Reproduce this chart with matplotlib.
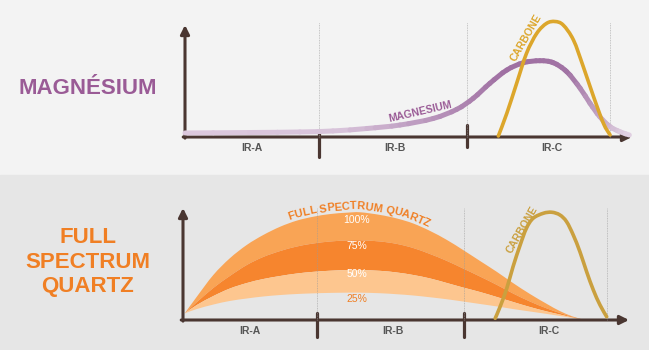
#!/usr/bin/env python3
# -*- coding: utf-8 -*-

import numpy as np
import matplotlib
matplotlib.use("Agg")
import matplotlib.pyplot as plt
from matplotlib.collections import LineCollection
from matplotlib.colors import LinearSegmentedColormap
from matplotlib.patches import Rectangle, PathPatch
from matplotlib.path import Path
from matplotlib.font_manager import FontProperties
from matplotlib.textpath import TextToPath

plt.rcParams['font.family'] = ['Liberation Sans', 'DejaVu Sans']

# spectral zones, relative wavelength units 0..100
zoneEdges = [30, 63]
guideLines = [30, 63, 95]
zoneLabels = ['IR-A', 'IR-B', 'IR-C']
zoneLabelX = [15, 47, 82]

# top panel: magnesium lamp vs carbon lamp (relative intensity)
magX = [0, 14.5, 25.7, 33.1, 40.7, 48.1, 55.5, 60.8, 64.5, 68.2, 72.0, 75.7, 79.4, 82.4,
        85.4, 88.4, 90.6, 92.8, 95.1, 97.3, 99.4]
magY = [3.6, 4.0, 4.5, 5.4, 7.6, 10.7, 16.5, 24.7, 34.6, 47.9, 59.8, 66.3, 68.1, 66.3,
        58.3, 43.5, 30.1, 18.1, 9.2, 4.7, 1.8]

carbTopX = [70.1, 72.0, 74.2, 76.4, 78.7, 80.9, 82.8, 84.6, 86.9, 89.1, 91.4, 93.6, 95.1]
carbTopY = [0.9, 21.2, 48.0, 74.7, 92.6, 101.5, 103.1, 100.0, 86.6, 62.8, 36.0, 12.2, 1.8]

# bottom panel: full spectrum quartz at 100/75/50/25 % power, and carbon lamp
fsqX = [0.4, 3.1, 6.8, 10.5, 14.3, 18.0, 21.8, 25.5, 29.2, 33.0, 36.7, 39.7, 44.2, 48.0,
        51.6, 55.4, 59.2, 62.8, 66.6, 70.4, 74.0, 77.8, 81.6, 84.5, 87.4, 90.1]
fsq100 = [6.0, 20.8, 40.2, 55.1, 67.0, 75.9, 83.3, 88.7, 92.2, 94.6, 95.8, 96.2, 93.8, 90.6,
          86.2, 79.5, 71.4, 62.5, 52.7, 42.9, 33.0, 23.2, 14.3, 8.0, 3.1, 0]
fsq75 = [6.0, 15.9, 28.6, 39.3, 49.1, 56.3, 61.6, 65.6, 68.3, 70.1, 71.0, 71.2, 70.1, 67.9,
         64.3, 58.9, 52.7, 46.0, 38.8, 31.3, 23.7, 16.5, 10.3, 6.3, 2.7, 0]
fsq50 = [6.0, 13.4, 21.4, 28.1, 33.0, 36.6, 39.3, 41.5, 43.0, 44.0, 44.6, 44.6, 43.9, 42.4,
         40.2, 37.1, 33.0, 29.0, 25.0, 20.5, 16.1, 11.6, 7.6, 4.9, 2.2, 0]
fsq25 = [6.0, 9.8, 13.8, 17.0, 19.2, 21.0, 22.3, 23.2, 23.8, 24.2, 24.4, 24.4, 23.9, 23.0,
         21.9, 20.3, 18.5, 16.5, 14.3, 12.1, 9.8, 7.6, 5.4, 3.6, 1.8, 0]
pctLabels = ['100%', '75%', '50%', '25%']
pctLabelY = [89.3, 66.1, 41.1, 18.8]

carbBotX = [70.0, 71.1, 72.6, 74.0, 75.6, 77.0, 78.5, 80.8, 82.7, 84.5, 86.0, 87.5, 89.0,
            90.5, 92.0, 93.5, 95.0]
carbBotY = [1.5, 11.9, 28.3, 47.6, 67.0, 81.9, 90.8, 95.3, 96.2, 93.8, 87.8, 75.9, 60.9,
            43.1, 26.8, 13.4, 2.9]

axisColor = '#4a3631'
purple = '#9a5b96'
orange = '#f07f24'
gold = '#dca62b'

fig = plt.figure(figsize=(6.49, 3.5), dpi=100)
fig.patches.append(Rectangle((0, 0.5), 1, 0.5, transform=fig.transFigure, color='#f3f3f3', zorder=-10))
fig.patches.append(Rectangle((0, 0), 1, 0.5, transform=fig.transFigure, color='#e6e6e6', zorder=-10))

axTop = fig.add_axes([185 / 649, 213 / 350, 447 / 649, 112 / 350])
axBot = fig.add_axes([183 / 649, 30 / 350, 446 / 649, 112 / 350])


def bezierSegments(xs, ys):
    # Catmull-Rom style smooth path through the read points
    p = np.column_stack([xs, ys]).astype(float)
    ext = np.vstack([p[0], p, p[-1]])
    verts = []
    for i in range(len(p) - 1):
        p0, p1, p2, p3 = ext[i], ext[i + 1], ext[i + 2], ext[i + 3]
        verts.append((p1 + (p2 - p0) / 6, p2 - (p3 - p1) / 6, p2))
    return p, verts


def smoothPath(xs, ys):
    p, segs = bezierSegments(xs, ys)
    verts = [p[0]]
    codes = [Path.MOVETO]
    for c1, c2, end in segs:
        verts += [c1, c2, end]
        codes += [Path.CURVE4] * 3
    return Path(verts, codes)


def bandPath(xs, upper, lower):
    pu, su = bezierSegments(xs, upper)
    pl, sl = bezierSegments(xs[::-1], lower[::-1])
    verts = [pu[0]]
    codes = [Path.MOVETO]
    for c1, c2, end in su:
        verts += [c1, c2, end]
        codes += [Path.CURVE4] * 3
    verts.append(pl[0])
    codes.append(Path.LINETO)
    for c1, c2, end in sl:
        verts += [c1, c2, end]
        codes += [Path.CURVE4] * 3
    verts.append(pu[0])
    codes.append(Path.CLOSEPOLY)
    return Path(verts, codes)


def drawFrame(ax, tickSpans, guideTop):
    ax.set_xlim(0, 100)
    ax.set_ylim(0, 100)
    ax.axis('off')
    arrow = dict(arrowstyle='-|>', color=axisColor, lw=2.2, mutation_scale=13, shrinkA=0, shrinkB=0)
    ax.annotate('', xy=(0, 1), xytext=(0, -0.01), xycoords='axes fraction', arrowprops=arrow,
                annotation_clip=False, zorder=2)
    ax.annotate('', xy=(1, 0), xytext=(-0.004, 0), xycoords='axes fraction', arrowprops=arrow,
                annotation_clip=False, zorder=2)
    for g in guideLines:
        ax.plot([g, g], [0, guideTop], color='#9a9a9a', lw=0.6, ls=(0, (1, 1)), alpha=0.7,
                zorder=2.5, clip_on=False)
    for e, (lo, hi) in zip(zoneEdges, tickSpans):
        ax.plot([e, e], [lo, hi], color=axisColor, lw=2.3, solid_capstyle='round', zorder=2,
                clip_on=False)
    for x, lab in zip(zoneLabelX, zoneLabels):
        ax.text(x, -10, lab, ha='center', va='center', fontsize=7.5, fontweight='bold',
                color='#555555')


def drawCurve(ax, xs, ys, color, lw, z):
    ax.add_patch(PathPatch(smoothPath(xs, ys), fill=False, edgecolor=color, lw=lw,
                           capstyle='round', joinstyle='round', zorder=z, clip_on=False))


def textAlongCurve(ax, text, xs, ys, startX, endX, lift, fontsize, color):
    poly = smoothPath(xs, ys).to_polygons(transform=ax.transData, closed_only=False)[0]
    pts = np.array(poly, dtype=float)
    pts[:, 1] += lift
    seg = np.hypot(np.diff(pts[:, 0]), np.diff(pts[:, 1]))
    s = np.concatenate([[0], np.cumsum(seg)])
    s0 = np.interp(ax.transData.transform((startX, 0))[0], pts[:, 0], s)
    s1 = np.interp(ax.transData.transform((endX, 0))[0], pts[:, 0], s)
    prop = FontProperties(family='Liberation Sans', weight='bold', size=fontsize)
    t2p = TextToPath()
    widths = []
    for ch in text:
        if ch == ' ':
            widths.append(0.278 * fontsize * fig.dpi / 72)
        else:
            widths.append(t2p.get_text_width_height_descent(ch, prop, ismath=False)[0] * fig.dpi / 72)
    gap = (s1 - s0 - sum(widths)) / (len(text) - 1)
    pos = s0
    inv = fig.transFigure.inverted()
    for ch, w in zip(text, widths):
        c = pos + w / 2
        x = np.interp(c, s, pts[:, 0])
        y = np.interp(c, s, pts[:, 1])
        dx = np.interp(c + 5, s, pts[:, 0]) - np.interp(c - 5, s, pts[:, 0])
        dy = np.interp(c + 5, s, pts[:, 1]) - np.interp(c - 5, s, pts[:, 1])
        ang = np.degrees(np.arctan2(dy, dx))
        fx, fy = inv.transform((x, y))
        fig.text(fx, fy, ch, rotation=ang, rotation_mode='anchor', ha='center', va='baseline',
                 fontsize=fontsize, fontweight='bold', color=color)
        pos += w + gap


# ---------- top panel ----------
drawFrame(axTop, [(3.6, -17.9), (10.7, -8.9)], 102.7)

# magnesium curve: smooth path, flattened and coloured along x for the fade
magCmap = LinearSegmentedColormap.from_list(
    'mag', [(0, '#dcc8dd'), (0.35, '#d8c3da'), (0.72, '#9f6fa2'), (0.86, '#a173a4'),
            (0.98, '#dccadd'), (1, '#e3d3e3')])
flat = smoothPath(magX, magY).to_polygons(transform=axTop.transData, closed_only=False)[0]
flat = axTop.transData.inverted().transform(np.array(flat, dtype=float))
magSegs = np.stack([flat[:-1], flat[1:]], axis=1)
magMid = (flat[:-1, 0] + flat[1:, 0]) / 200
axTop.add_collection(LineCollection(magSegs, colors=magCmap(magMid), linewidths=3.6,
                                    capstyle='round', zorder=3, clip_on=False))

drawCurve(axTop, carbTopX, carbTopY, gold, 2.6, 4)

axTop.text(52.6, 22.3, 'MAGNESIUM', rotation=13, rotation_mode='anchor', ha='center',
           va='center', fontsize=7.5, fontweight='bold', color=purple)
axTop.text(76.3, 88.4, 'CARBONE', rotation=60, rotation_mode='anchor', ha='center',
           va='center', fontsize=7.5, fontweight='bold', color=gold)

fig.text(88 / 649, 1 - 88.5 / 350, 'MAGNÉSIUM', ha='center', va='center', fontsize=16,
         fontweight='bold', color=purple)

# ---------- bottom panel ----------
drawFrame(axBot, [(6.2, -15.2), (6.2, -15.2)], 100)

x = np.array(fsqX)
for upper, lower, col in [(fsq100, fsq75, '#f9a455'), (fsq75, fsq50, '#f6852e'),
                          (fsq50, fsq25, '#fdc68f')]:
    axBot.add_patch(PathPatch(bandPath(x, np.array(upper), np.array(lower)), facecolor=col,
                              edgecolor='none', zorder=1))

for lab, y in zip(pctLabels, pctLabelY):
    axBot.text(39, y, lab, ha='center', va='center', fontsize=7.5,
               color=orange if lab == '25%' else 'white')

drawCurve(axBot, carbBotX, carbBotY, '#caa03f', 2.6, 4)
axBot.text(76.0, 80.4, 'CARBONE', rotation=60, rotation_mode='anchor', ha='center',
           va='center', fontsize=7.5, fontweight='bold', color='#caa03f')

textAlongCurve(axBot, 'FULL SPECTRUM QUARTZ', fsqX, fsq100, 23.8, 55.0, 3, 8, orange)

fig.text(88 / 649, 1 - 262 / 350, 'FULL\nSPECTRUM\nQUARTZ', ha='center', va='center',
         fontsize=16, fontweight='bold', color=orange, linespacing=1.2)

fig.savefig('out.png', dpi=100)
